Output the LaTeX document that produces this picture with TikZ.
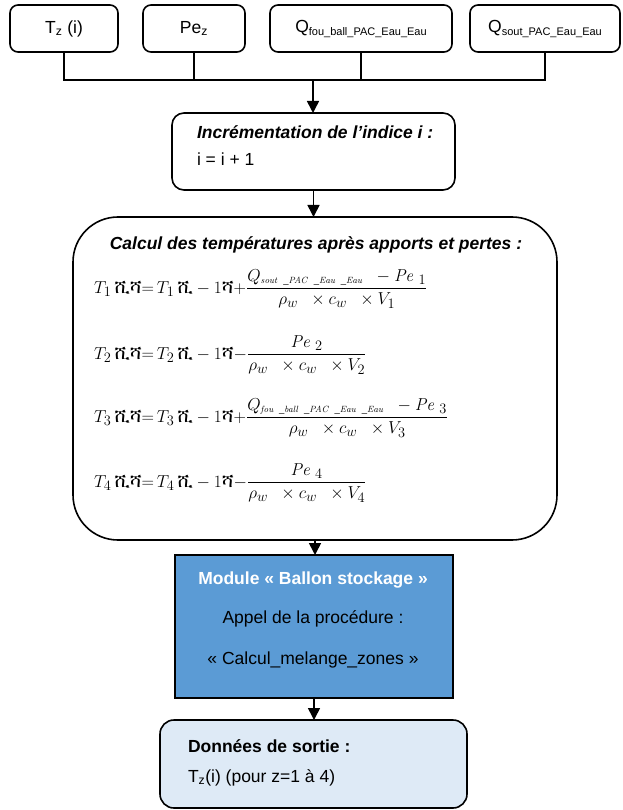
\documentclass[tikz,border=0pt]{standalone}
\usepackage{amsmath}
\usepackage[no-math]{fontspec}
\setmainfont{Liberation Sans}
\IfFontExistsTF{FreeSerif}{\newfontfamily\ethfont{FreeSerif}}{\newfontfamily\ethfont{DejaVu Sans}}
\usetikzlibrary{arrows.meta}
\newcommand{\ethO}{\text{\ethfont ሺ}}
\newcommand{\ethC}{\text{\ethfont ሻ}}
\newcommand{\sq}[1]{\scriptscriptstyle\mathit{#1}}
\definecolor{modblue}{HTML}{5B9BD5}
\definecolor{outblue}{HTML}{DEEAF6}
\tikzset{
  topbox/.style={draw, line width=1.6pt, rounded corners=8pt, minimum height=47pt},
  flowline/.style={line width=1.6pt},
  arr/.style={line width=1.6pt, -{Triangle[width=12pt,length=12pt]}},
  lbl/.style={inner sep=0pt, outer sep=0pt},
  eqn/.style={inner sep=0pt, outer sep=0pt, anchor=base west, font=\fontsize{19}{22}\selectfont},
}
\begin{document}
\begin{tikzpicture}[x=1pt,y=-1pt, font=\fontsize{17.5}{21}\selectfont]
\useasboundingbox (0,0) rectangle (622,810);

% top boxes
\node[topbox, minimum width=108pt] (tz) at (64,28.5) {T\textsubscript{z} (i)};
\node[topbox, minimum width=102pt] (pe) at (194,28.5) {Pe\textsubscript{z}};
\node[topbox, minimum width=182pt] (qf) at (361,28.5) {Q{\fontsize{11}{13}\selectfont\raisebox{-3pt}{fou\_ball\_PAC\_Eau\_Eau}}};
\node[topbox, minimum width=150pt] (qs) at (545,28.5) {Q{\fontsize{11}{13}\selectfont\raisebox{-3pt}{sout\_PAC\_Eau\_Eau}}};

\coordinate (j) at (313,80);
\draw[flowline] (tz.south) -- (tz.south |- j) -- (qs.south |- j) -- (qs.south);
\draw[flowline] (pe.south) -- (pe.south |- j);
\draw[flowline] (qf.south) -- (qf.south |- j);

% increment box
\node[draw, line width=1.6pt, rounded corners=12pt, minimum width=283pt, minimum height=77pt, lbl] (inc) at (313.5,151.5) {};
\node[lbl, anchor=base west, font=\fontsize{17.5}{21}\selectfont\bfseries\itshape] (inct) at (197,139) {Incrémentation de l’indice i :};
\node[lbl, anchor=base west] (incv) at (197,166) {i = i + 1};
\draw[arr] (j) -- (j |- inc.north);

% calcul box
\node[draw, line width=1.6pt, rounded corners=45pt, minimum width=484pt, minimum height=323pt, lbl] (calc) at (315,378.5) {};
\draw[arr] (inc.south) -- (inc.south |- calc.north);
\node[lbl, anchor=base, font=\fontsize{17.5}{21}\selectfont\bfseries\itshape] (calct) at (316,249) {Calcul des températures après apports et pertes :};

\node[eqn] (eq1) at (94,293)
{$T_1\,\ethO\ethC{=}\, T_1\,\ethO - 1\ethC{+}\dfrac{Q_{\sq{sout}\;\; \sq{\_PAC}\;\; \sq{\_Eau}\;\; \sq{\_Eau}}\;\; - \mathit{Pe}_{\;1}}{\rho_w\;\;\times c_w\;\;\times V_1}$};
\node[eqn] (eq2) at (94,359)
{$T_2\,\ethO\ethC{=}\, T_2\,\ethO - 1\ethC{-}\dfrac{\mathit{Pe}_{\;2}}{\rho_w\;\;\times c_w\;\;\times V_2}$};
\node[eqn] (eq3) at (94,422)
{$T_3\,\ethO\ethC{=}\, T_3\,\ethO - 1\ethC{+}\dfrac{Q_{\sq{fou}\;\; \sq{\_ball}\;\; \sq{\_PAC}\;\; \sq{\_Eau}\;\; \sq{\_Eau}}\;\; - \mathit{Pe}_{\;3}}{\rho_w\;\;\times c_w\;\;\times V_3}$};
\node[eqn] (eq4) at (94,487)
{$T_4\,\ethO\ethC{=}\, T_4\,\ethO - 1\ethC{-}\dfrac{\mathit{Pe}_{\;4}}{\rho_w\;\;\times c_w\;\;\times V_4}$};

% module box
\node[draw, line width=1.6pt, fill=modblue, minimum width=278pt, minimum height=143pt, lbl] (mod) at (314,626.5) {};
\draw[arr] (calc.south) -- (calc.south |- mod.north);
\node[lbl, anchor=base, text=white, font=\fontsize{17.5}{21}\selectfont\bfseries] (modt) at (313,584) {Module « Ballon stockage »};
\node[lbl, anchor=base] (moda) at (313,623) {Appel de la procédure :};
\node[lbl, anchor=base] (modc) at (313,664) {« Calcul\_melange\_zones »};

% output box
\node[draw, line width=1.6pt, fill=outblue, rounded corners=14pt, minimum width=307pt, minimum height=88pt, lbl] (out) at (313.5,764) {};
\draw[arr] (mod.south) -- (mod.south |- out.north);
\node[lbl, anchor=base west, font=\fontsize{17.5}{21}\selectfont\bfseries] (outt) at (188,752) {Données de sortie :};
\node[lbl, anchor=base west] (outv) at (188,782) {T\textsubscript{z}(i) (pour z=1 à 4)};
\end{tikzpicture}
\end{document}
